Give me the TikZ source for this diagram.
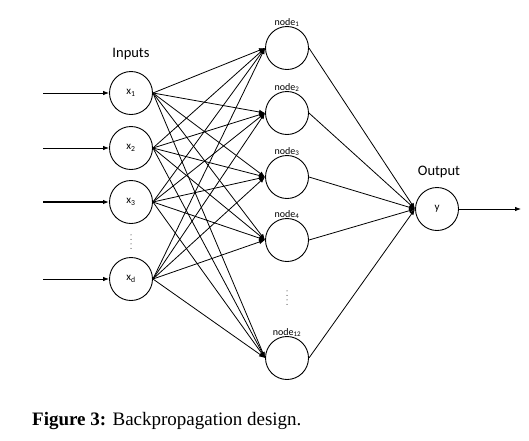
\documentclass[tikz,border=0pt]{standalone}
\usepackage{fontspec}
\setmainfont{Liberation Serif}
\newfontfamily\labfont{Carlito}
\usetikzlibrary{arrows.meta}
\begin{document}
\begin{tikzpicture}[x=1pt,y=-1pt,
  neuron/.style={circle,draw,line width=0.9pt,minimum size=43pt,inner sep=0pt,font=\labfont\fontsize{11}{12}\selectfont},
  conn/.style={line width=0.8pt,-{Latex[length=6pt,width=4.5pt]}},
  toplab/.style={font=\labfont\fontsize{10}{11}\selectfont,inner sep=0pt},
  biglab/.style={font=\labfont\fontsize{14.5}{16}\selectfont,inner sep=0pt},
  dotsbox/.style={minimum width=4pt,minimum height=14pt,inner sep=0pt},
  vdotline/.style={line width=1pt,line cap=round,dash pattern=on 0pt off 4.5pt}]
\useasboundingbox (0,0) rectangle (529,440);
% input layer
\node[neuron] (x1) at (131,93) {x\textsubscript{1}};
\node[neuron] (x2) at (131,148) {x\textsubscript{2}};
\node[neuron] (x3) at (131,202) {x\textsubscript{3}};
\node[neuron] (xd) at (131,279) {x\textsubscript{d}};
\node[dotsbox] (vd1) at (131,242) {};
\draw[vdotline] (vd1.north) -- (vd1.south);
\node[biglab] (inl) at (131,54) {Inputs};
% input arrows
\coordinate (i1) at (43,93);
\coordinate (i2) at (43,148);
\coordinate (i3) at (43,202);
\coordinate (id) at (43,279);
\draw[conn] (i1) -- (x1.west);
\draw[conn] (i2) -- (x2.west);
\draw[conn,line width=1.2pt] (i3) -- (x3.west);
\draw[conn] (id) -- (xd.west);
% hidden layer
\node[neuron] (h1) at (287,48) {};
\node[neuron] (h2) at (287,113) {};
\node[neuron] (h3) at (287,177) {};
\node[neuron] (h4) at (287,240) {};
\node[neuron] (h12) at (287,358) {};
\node[dotsbox] (vd2) at (287,298) {};
\draw[vdotline] (vd2.north) -- (vd2.south);
\node[toplab,anchor=south] (l1) at ([yshift=-1pt]h1.north) {node\textsubscript{1}};
\node[toplab,anchor=south] (l2) at ([yshift=-1pt]h2.north) {node\textsubscript{2}};
\node[toplab,anchor=south] (l3) at ([yshift=-1pt]h3.north) {node\textsubscript{3}};
\node[toplab,anchor=south] (l4) at ([yshift=-1pt]h4.north) {node\textsubscript{4}};
\node[toplab,anchor=south] (l12) at ([yshift=-1pt]h12.north) {node\textsubscript{12}};
% full connections
\foreach \i in {x1,x2,x3,xd}{
  \foreach \h in {h1,h2,h3,h4,h12}{
    \draw[conn] (\i.east) -- (\h.west);
  }
}
% output
\node[neuron] (y) at (437,209) {y};
\node[biglab] (outl) at (439,172) {Output};
\foreach \h in {h1,h2,h3,h4,h12}{
  \draw[conn] (\h.east) -- (y.west);
}
\coordinate (yo) at (521,209);
\draw[conn] (y.east) -- (yo);
% caption
\node[anchor=west,inner sep=0pt,font=\fontsize{19}{22}\selectfont] (cap) at (32,421) {\textbf{Figure 3:} Backpropagation design.};
\end{tikzpicture}
\end{document}
